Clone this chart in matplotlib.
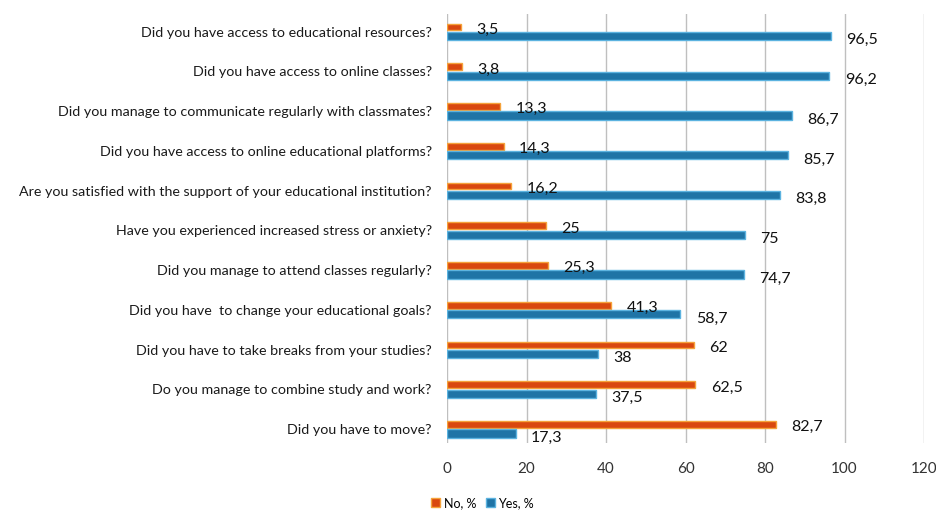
import numpy as np
import matplotlib
matplotlib.use("Agg")
import matplotlib.pyplot as plt

plt.rcParams["font.family"] = ["Lato", "DejaVu Sans"]

questions = [
    "Did you have access to educational resources?",
    "Did you have access to online classes?",
    "Did you manage to communicate regularly with classmates?",
    "Did you have access to online educational platforms?",
    "Are you satisfied with the support of your educational institution?",
    "Have you experienced increased stress or anxiety?",
    "Did you manage to attend classes regularly?",
    "Did you have  to change your educational goals?",
    "Did you have to take breaks from your studies?",
    "Do you manage to combine study and work?",
    "Did you have to move?",
]
no_pct = [3.5, 3.8, 13.3, 14.3, 16.2, 25, 25.3, 41.3, 62, 62.5, 82.7]
yes_pct = [96.5, 96.2, 86.7, 85.7, 83.8, 75, 74.7, 58.7, 38, 37.5, 17.3]


def fmt(v):
    # comma decimal separator, as in the source
    s = f"{v:g}"
    return s.replace(".", ",")


fig = plt.figure(figsize=(9.37, 5.14), dpi=100)
ax = fig.add_axes([0.4771, 0.1381, 0.5091, 0.8346])

y = np.arange(len(questions))
off = 0.113
no_color, no_edge = "#D9480F", "#F5A23A"
yes_color, yes_edge = "#1F74A6", "#5CB3E0"

ax.barh(y - off, no_pct, height=0.17, color=no_color, edgecolor=no_edge,
        linewidth=1.0, label="No, %", zorder=3)
ax.barh(y + off, yes_pct, height=0.21, color=yes_color, edgecolor=yes_edge,
        linewidth=1.0, label="Yes, %", zorder=3)

for yi, v in zip(y, no_pct):
    ax.annotate(fmt(v), (v, yi - off), xytext=(11, -2), textcoords="offset points",
                ha="left", va="center", fontsize=11.5, color="#111111")
for yi, v in zip(y, yes_pct):
    ax.annotate(fmt(v), (v, yi + off), xytext=(11, -3), textcoords="offset points",
                ha="left", va="center", fontsize=11.5, color="#111111")

ax.set_xlim(0, 120)
ax.set_ylim(10.35, -0.44)
ax.set_xticks(np.arange(0, 121, 20))
ax.set_yticks(y)
ax.set_yticklabels(questions, fontsize=10.3, color="#1a1a1a")
ax.tick_params(axis="y", length=0, pad=11)
ax.tick_params(axis="x", length=0, pad=14, labelsize=11, labelcolor="#333333")
ax.xaxis.grid(True, color="#BFBFBF", linewidth=1.0, zorder=0)
ax.set_axisbelow(True)
for sp in ax.spines.values():
    sp.set_visible(False)

fig.legend(loc="lower center", bbox_to_anchor=(0.515, -0.012), ncol=2, frameon=False,
           fontsize=9, handlelength=0.7, handleheight=0.7, handletextpad=0.3,
           columnspacing=0.8)

fig.savefig("out.png", dpi=100)
